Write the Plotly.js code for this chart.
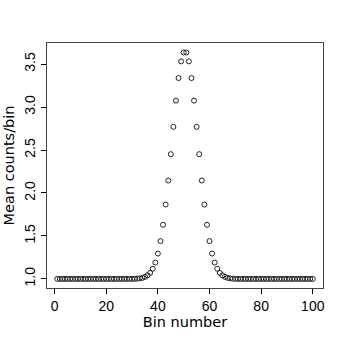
<!DOCTYPE html>
<html>
<head>
<meta charset="utf-8">
<script src="https://cdn.plot.ly/plotly-3.0.1.min.js"></script>
<style>
  html, body { margin: 0; padding: 0; background: #fff; }
  #grafico { width: 346px; height: 342px; }
</style>
</head>
<body>
<div id="grafico"></div>
<script>
// bin numbers 1..100 (indices)
const bins = Array.from({ length: 100 }, (_, i) => i + 1);

// mean counts per bin
const meanCounts = [
  1.000, 1.000, 1.000, 1.000, 1.000, 1.000, 1.000, 1.000, 1.000, 1.000,
  1.000, 1.000, 1.000, 1.000, 1.000, 1.000, 1.000, 1.000, 1.000, 1.000,
  1.000, 1.000, 1.000, 1.000, 1.000, 1.000, 1.000, 1.000, 1.000, 1.000,
  1.001, 1.003, 1.006, 1.012, 1.023, 1.041, 1.070, 1.118, 1.190, 1.295,
  1.440, 1.630, 1.866, 2.145, 2.452, 2.770, 3.075, 3.338, 3.532, 3.636,
  3.636, 3.532, 3.338, 3.075, 2.770, 2.452, 2.145, 1.866, 1.630, 1.440,
  1.295, 1.190, 1.118, 1.070, 1.041, 1.023, 1.012, 1.006, 1.003, 1.001,
  1.000, 1.000, 1.000, 1.000, 1.000, 1.000, 1.000, 1.000, 1.000, 1.000,
  1.000, 1.000, 1.000, 1.000, 1.000, 1.000, 1.000, 1.000, 1.000, 1.000,
  1.000, 1.000, 1.000, 1.000, 1.000, 1.000, 1.000, 1.000, 1.000, 1.000
];

const xTicks = [0, 20, 40, 60, 80, 100];
const yTicks = [1.0, 1.5, 2.0, 2.5, 3.0, 3.5];

const trazado = [{
  x: bins,
  y: meanCounts,
  type: 'scatter',
  mode: 'markers',
  marker: { symbol: 'circle-open', size: 5, color: '#222', line: { width: 1, color: '#222' } },
  hoverinfo: 'none'
}];

const fuenteTicks = { family: 'Liberation Sans, Arial, sans-serif', size: 14, color: '#000' };
const fuenteTitulo = { family: 'DejaVu Sans, sans-serif', size: 14.5, color: '#000' };

const layout = {
  width: 346,
  height: 342,
  margin: { l: 47, r: 23, t: 43, b: 54 },
  paper_bgcolor: '#fff',
  plot_bgcolor: '#fff',
  showlegend: false,
  xaxis: {
    range: [-2.96, 103.96],
    tickvals: xTicks,
    ticktext: xTicks.map(String),
    ticks: 'outside',
    ticklen: 5,
    tickcolor: '#000',
    showline: true,
    mirror: true,
    linecolor: '#444',
    linewidth: 1,
    showgrid: false,
    zeroline: false,
    tickfont: fuenteTicks,
    title: { text: 'Bin number', font: fuenteTitulo, standoff: 4 }
  },
  yaxis: {
    range: [0.894, 3.746],
    tickvals: yTicks,
    ticktext: yTicks.map(v => v.toFixed(1)),
    tickangle: -90,
    ticks: 'outside',
    ticklen: 5,
    tickcolor: '#000',
    showline: true,
    mirror: true,
    linecolor: '#444',
    linewidth: 1,
    showgrid: false,
    zeroline: false,
    tickfont: fuenteTicks,
    title: { text: 'Mean counts/bin', font: fuenteTitulo, standoff: 4 }
  }
};

Plotly.newPlot('grafico', trazado, layout, { staticPlot: true, displayModeBar: false });
</script>
</body>
</html>
